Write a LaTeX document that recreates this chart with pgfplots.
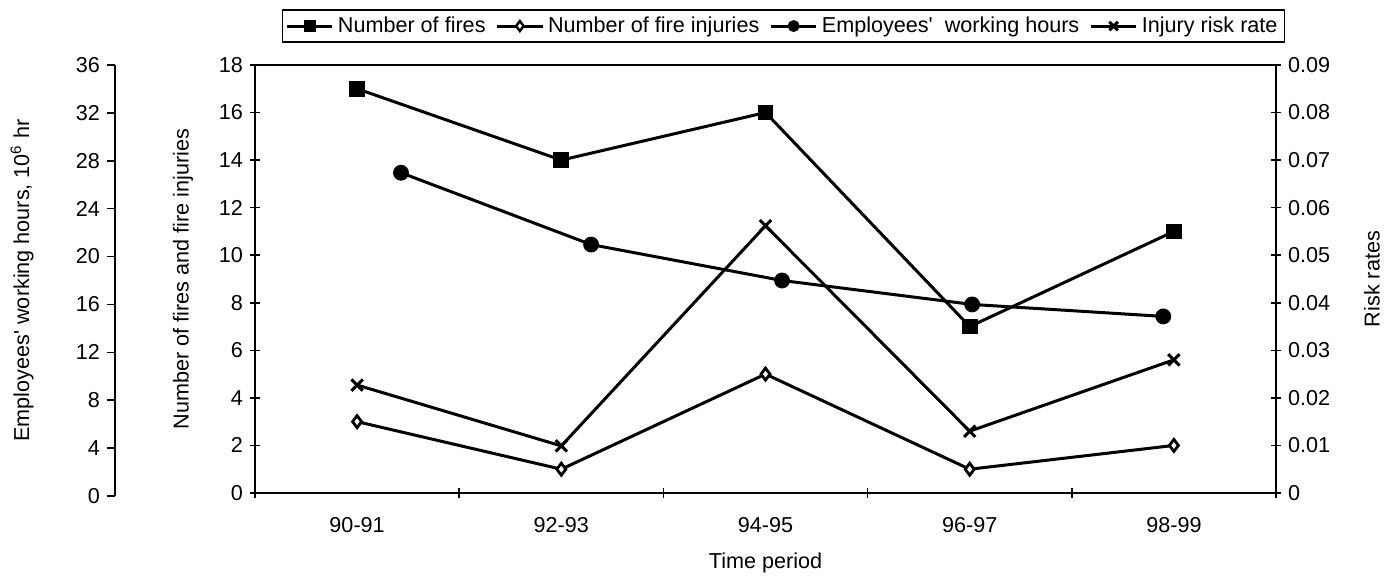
\documentclass[border=0pt]{standalone}
\usepackage{fontspec}
\setmainfont{Liberation Sans}
\usepackage{pgfplots}
\pgfplotsset{compat=1.18}
\newcommand{\cf}{\fontsize{10.8}{13}\selectfont}
\begin{document}
\begin{tikzpicture}[font=\cf]
\path (0,0) rectangle (695.5pt,-288.5pt);
\pgfplotsset{
  every axis/.append style={
    scale only axis,
    /pgf/number format/assume math mode=true,
    tick style={black, line width=0.8pt},
    ticklabel style={font=\cf},
    label style={font=\cf},
  },
  legend image code/.code={\draw[mark repeat=2,mark phase=2] plot coordinates {(0cm,0cm) (0.4cm,0cm) (0.8cm,0cm)};},
}
% left axis (employees' working hours)
\begin{axis}[
  at={(57.5pt,-248pt)}, anchor=south west, width=10pt, height=215.5pt,
  xmin=0, xmax=1, ymin=0, ymax=36,
  axis y line*=left, axis x line=none,
  axis line style={-, line width=0.9pt},
  ytick={0,4,...,36}, tick align=outside, major tick length=4pt,
  ylabel={Employees\textquotesingle{} working hours, 10\textsuperscript{6} hr},
  ylabel style={at={(axis description cs:-4.65,0.5)}, anchor=center},
]
\end{axis}
% employees series
\begin{axis}[
  at={(127.5pt,-248pt)}, anchor=south west, width=510.5pt, height=215.5pt,
  xmin=-0.5, xmax=4.5, ymin=0, ymax=36, hide axis, clip=false,
]
\addplot[black, line width=1.5pt, mark=*, mark size=3.2pt] coordinates {(0.215,27)(1.146,21)(2.081,18)(3.012,16)(3.948,15)};
\end{axis}
% right axis (risk rates)
\begin{axis}[
  at={(127.5pt,-246.5pt)}, anchor=south west, width=510.5pt, height=214pt,
  xmin=-0.5, xmax=4.5, ymin=0, ymax=0.09,
  axis y line*=right, axis x line=none,
  axis line style={-, line width=1.3pt},
  ytick={0,0.01,0.02,0.03,0.04,0.05,0.06,0.07,0.08,0.09},
  scaled y ticks=false,
  yticklabel style={/pgf/number format/fixed, /pgf/number format/precision=2},
  tick align=center, major tick length=5pt,
  ylabel={Risk rates},
  ylabel style={at={(axis description cs:1.094,0.5)}, anchor=center},
  clip=false,
]
\addplot[black, line width=1.5pt, mark=x, mark size=4pt] coordinates {(0,0.0227)(1,0.0099)(2,0.0562)(3,0.0130)(4,0.0280)};
\end{axis}
% main axis
\begin{axis}[
  at={(127.5pt,-246.5pt)}, anchor=south west, width=510.5pt, height=214pt,
  xmin=-0.5, xmax=4.5, ymin=0, ymax=18,
  axis line style={line width=1.3pt},
  xtick={0,...,4}, xticklabels={90-91,92-93,94-95,96-97,98-99},
  major x tick style={draw=none},
  minor xtick={-0.5,0.5,1.5,2.5,3.5,4.5},
  xtick pos=bottom, ytick pos=left,
  ytick={0,2,...,18},
  tick align=center, major tick length=5pt, minor tick length=5pt,
  xticklabel style={yshift=-6pt},
  xlabel={Time period}, ylabel={Number of fires and fire injuries},
  xlabel style={at={(axis description cs:0.5,-0.1636)}, anchor=center},
  ylabel style={at={(axis description cs:-0.0705,0.5)}, anchor=center},
  legend style={at={(axis description cs:0.5176,1.091)}, anchor=center,
    draw=black, line width=0.9pt, font=\cf,
    inner sep=1.5pt,
    /tikz/every even column/.append style={column sep=3pt}},
  legend columns=-1,
  clip=false,
]
\addlegendimage{black, line width=1.5pt, mark=square*, mark size=2.2pt}
\addlegendentry{Number of fires}
\addlegendimage{black, line width=1.5pt, mark=diamond*, mark size=2.5pt, mark options={fill=white, line width=1.2pt}}
\addlegendentry{Number of fire injuries}
\addlegendimage{black, line width=1.5pt, mark=*, mark size=2.2pt}
\addlegendentry{Employees\textquotesingle{}\ \ working hours}
\addlegendimage{black, line width=1.5pt, mark=x, mark size=3pt}
\addlegendentry{Injury risk rate}
\addplot[forget plot, black, line width=1.5pt, mark=square*, mark size=3.2pt] coordinates {(0,17)(1,14)(2,16)(3,7)(4,11)};
\addplot[forget plot, black, line width=1.5pt, mark=diamond*, mark size=3pt, mark options={fill=white, line width=1.4pt}] coordinates {(0,3)(1,1)(2,5)(3,1)(4,2)};
\end{axis}
\end{tikzpicture}
\end{document}
